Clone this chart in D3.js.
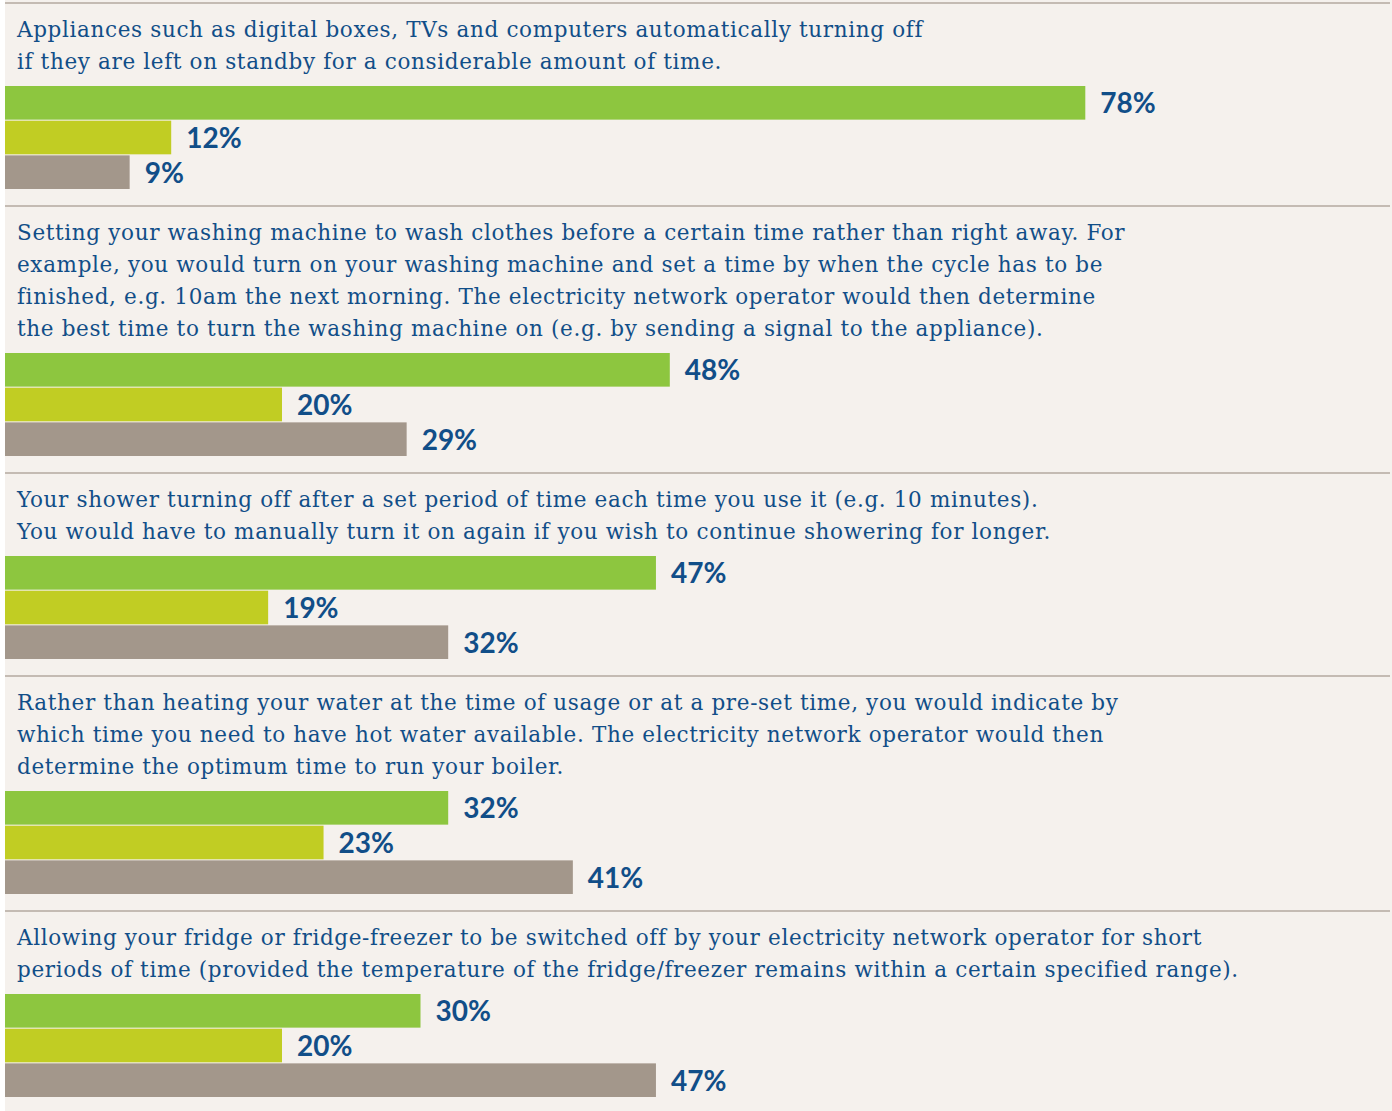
<!DOCTYPE html>
<html>
<head>
<meta charset="utf-8">
<script src="https://cdn.jsdelivr.net/npm/d3@7"></script>
<style>
  body { margin: 0; background: #ffffff; }
  .question { font-family: "DejaVu Serif", serif; font-size: 21.5px; letter-spacing: 0.65px; fill: #114e88; }
  .value { font-family: Lato, "Open Sans", sans-serif; font-weight: 700; font-size: 28px; fill: #114e88; }
</style>
</head>
<body>
<div id="chart"></div>
<script>
// question texts, one array of lines per question
var questions = [
    ["Appliances such as digital boxes, TVs and computers automatically turning off",
     "if they are left on standby for a considerable amount of time."],
    ["Setting your washing machine to wash clothes before a certain time rather than right away. For",
     "example, you would turn on your washing machine and set a time by when the cycle has to be",
     "finished, e.g. 10am the next morning. The electricity network operator would then determine",
     "the best time to turn the washing machine on (e.g. by sending a signal to the appliance)."],
    ["Your shower turning off after a set period of time each time you use it (e.g. 10 minutes).",
     "You would have to manually turn it on again if you wish to continue showering for longer."],
    ["Rather than heating your water at the time of usage or at a pre-set time, you would indicate by",
     "which time you need to have hot water available. The electricity network operator would then",
     "determine the optimum time to run your boiler."],
    ["Allowing your fridge or fridge-freezer to be switched off by your electricity network operator for short",
     "periods of time (provided the temperature of the fridge/freezer remains within a certain specified range)."]
];

var seriesKeys = ["green", "yellow", "grey"];
var greenValues  = [78, 48, 47, 32, 30];
var yellowValues = [12, 20, 19, 23, 20];
var greyValues   = [9, 29, 32, 41, 47];

var barColors = { green: "#8dc63f", yellow: "#c1cd23", grey: "#a3978b" };

//////////////////////////////////////////////////////////////////////////////
// layout

var width = 1392, height = 1111;
var left = 5, right = 1390;
var lineHeight = 32;
var firstBaseline = 34;
var groupHeight = 103;
var gapAfterText = 17, gapAfterBars = 17;

var xScale = d3.scaleLinear().domain([0, 100]).range([left, right]);
var yBand = d3.scaleBand().domain(seriesKeys).range([0, groupHeight]).paddingInner(0.03);

var svg = d3.select("#chart").append("svg")
    .attr("width", width)
    .attr("height", height);

svg.append("rect")
    .attr("x", left).attr("y", 0)
    .attr("width", width - left).attr("height", height)
    .attr("fill", "#f5f1ed");

var sections = [];
var sectionTop = 3;
questions.forEach(function(lines, i) {
    var lastBaseline = sectionTop + firstBaseline + (lines.length - 1) * lineHeight;
    var barTop = lastBaseline + gapAfterText;
    sections.push({
        top: sectionTop,
        lines: lines,
        barTop: barTop,
        values: { green: greenValues[i], yellow: yellowValues[i], grey: greyValues[i] }
    });
    sectionTop = barTop + groupHeight + gapAfterBars;
});

// separators
svg.selectAll("line.sep")
    .data(sections)
    .enter()
    .append("line")
    .attr("class", "sep")
    .attr("x1", left).attr("x2", right)
    .attr("y1", function(d) { return d.top; })
    .attr("y2", function(d) { return d.top; })
    .attr("stroke", "#b3a99f")
    .attr("stroke-width", 1.5);

var groups = svg.selectAll("g.section")
    .data(sections)
    .enter()
    .append("g")
    .attr("class", "section");

groups.append("text")
    .attr("class", "question")
    .selectAll("tspan")
    .data(function(d) { return d.lines.map(function(l, j) { return { text: l, y: d.top + firstBaseline + j * lineHeight }; }); })
    .enter()
    .append("tspan")
    .attr("x", 17)
    .attr("y", function(d) { return d.y; })
    .text(function(d) { return d.text; });

var bars = groups.selectAll("g.bar")
    .data(function(d) {
        return seriesKeys.map(function(k) { return { key: k, value: d.values[k], barTop: d.barTop }; });
    })
    .enter()
    .append("g")
    .attr("class", "bar");

bars.append("rect")
    .attr("x", xScale(0))
    .attr("y", function(d) { return d.barTop + yBand(d.key); })
    .attr("width", function(d) { return xScale(d.value) - xScale(0); })
    .attr("height", yBand.bandwidth())
    .attr("fill", function(d) { return barColors[d.key]; });

bars.append("text")
    .attr("class", "value")
    .attr("x", function(d) { return xScale(d.value) + 15; })
    .attr("y", function(d) { return d.barTop + yBand(d.key) + yBand.bandwidth() / 2; })
    .attr("dy", "0.38em")
    .text(function(d) { return d.value + "%"; });
</script>
</body>
</html>
